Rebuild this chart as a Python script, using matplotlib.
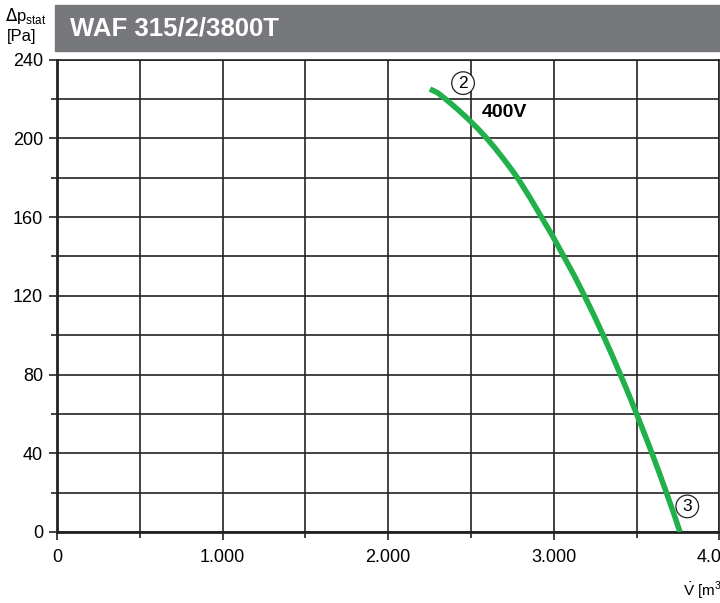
import matplotlib
matplotlib.use("Agg")
import matplotlib.pyplot as plt
from matplotlib.patches import Rectangle
from matplotlib.ticker import MultipleLocator, FuncFormatter

# curve (volume flow m3/h, static pressure Pa)
flow = [2252, 2300, 2345, 2415, 2480, 2540, 2595, 2645, 2692, 2737, 2780, 2855, 2925, 2995,
        3060, 3125, 3185, 3243, 3298, 3351, 3402, 3452, 3500, 3547, 3593, 3637, 3680, 3722, 3762]
pressure = [225, 223, 220, 215, 210, 205, 200, 195, 190, 185, 180, 170, 160, 150,
            140, 130, 120, 110, 100, 90, 80, 70, 60, 50, 40, 30, 20, 10, 0]

title = "WAF 315/2/3800T"
curve_label = "400V"
point_labels = [("2", 2452, 228), ("3", 3806, 13)]

plt.rcParams['font.family'] = ['Liberation Sans', 'DejaVu Sans']

fig = plt.figure(figsize=(7.2, 6.03), dpi=100)
ax = fig.add_axes([57 / 720, 1 - 532 / 603, 662.4 / 720, (532 - 59.5) / 603])

# grey title bar
fig.patches.append(Rectangle((55 / 720, 1 - 50.5 / 603), 1, 45.5 / 603,
                             transform=fig.transFigure, color='#77787c', zorder=0))
fig.text(70 / 720, 1 - 28 / 603, title, color='white', fontsize=18.5, fontweight='bold',
         va='center', ha='left')

fig.text(5 / 720, 1 - 16 / 603, r"$\Delta$p$_{\mathregular{stat}}$", fontsize=12, va='center', ha='left')
fig.text(7 / 720, 1 - 36 / 603, "[Pa]", fontsize=12, va='center', ha='left')

ax.plot(flow, pressure, color='#22b04b', lw=4, solid_capstyle='butt', solid_joinstyle='round', zorder=3)

for txt, x, y in point_labels:
    ax.text(x, y, txt, fontsize=12.5, ha='center', va='center', zorder=4,
            bbox=dict(boxstyle='circle,pad=0.22', fc='white', ec='#222222', lw=0.9))
ax.text(2565, 213, curve_label, fontsize=14, fontweight='bold',
        va='center', ha='left', zorder=4)

ax.set_xlim(0, 4000)
ax.set_ylim(0, 240)
ax.xaxis.set_major_locator(MultipleLocator(1000))
ax.xaxis.set_minor_locator(MultipleLocator(500))
ax.yaxis.set_major_locator(MultipleLocator(40))
ax.yaxis.set_minor_locator(MultipleLocator(20))
ax.xaxis.set_major_formatter(FuncFormatter(lambda v, p: "0" if v == 0 else f"{v/1000:.3f}"))
ax.grid(which='both', color='#222222', lw=1.2)
ax.set_axisbelow(True)
for s in ax.spines.values():
    s.set_color('#222222')
    s.set_linewidth(1.2)
ax.spines['left'].set_linewidth(2)
ax.spines['bottom'].set_linewidth(2)
ax.tick_params(which='both', direction='out', color='#222222', labelsize=13, pad=4)
ax.tick_params(which='major', length=6, width=1.2)
ax.tick_params(which='minor', length=4, width=1.2)
ax.tick_params(axis='x', pad=6)

fig.text(683 / 720, 1 - 590 / 603, r"$\dot{\mathregular{V}}$ [m$^{\mathregular{3}}$/h]", fontsize=11, va='center', ha='left')

fig.savefig("out.png", dpi=100)
